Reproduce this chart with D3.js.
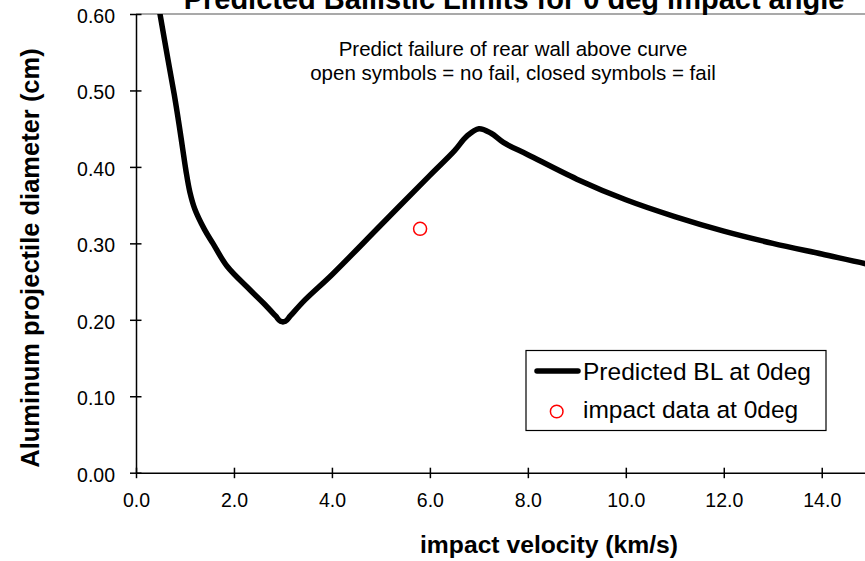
<!DOCTYPE html>
<html><head><meta charset="utf-8">
<script src="https://cdn.jsdelivr.net/npm/d3@7/dist/d3.min.js"></script>
<style>html,body{margin:0;padding:0;background:#fff;overflow:hidden}svg{display:block;font-family:Arial,"Liberation Sans",sans-serif}</style>
</head><body><svg id="c" width="865" height="561"></svg>
<script>
// ---- data ----
const velocity = [0.40, 0.49, 0.64, 0.78, 0.88, 0.95, 1.02, 1.1, 1.2, 1.4, 1.57, 1.86, 2.33, 2.6, 2.85, 2.95, 3.05, 3.15, 3.45, 4.0, 5.0, 6.0, 6.5, 6.75, 7.0, 7.25, 7.5, 8.0, 9.0, 10.0, 11.0, 12.0, 13.0, 14.0, 15.0, 16.0];
const diameter = [0.635, 0.60, 0.545, 0.495, 0.455, 0.425, 0.395, 0.367, 0.345, 0.318, 0.300, 0.270, 0.239, 0.222, 0.205, 0.198, 0.198, 0.205, 0.226, 0.259, 0.324, 0.389, 0.421, 0.440, 0.450, 0.444, 0.432, 0.416, 0.384, 0.357, 0.335, 0.316, 0.300, 0.286, 0.272, 0.260];
const impactVelocity = [5.8];
const impactDiameter = [0.319];
const xTicks = [0, 2, 4, 6, 8, 10, 12, 14];
const yTicks = [0, 0.1, 0.2, 0.3, 0.4, 0.5, 0.6];
const titleText = "Predicted Ballistic Limits for 0 deg impact angle";
const noteLines = ["Predict failure of rear wall above curve", "open symbols = no fail, closed symbols = fail"];
const xTitle = "impact velocity (km/s)";
const yTitle = "Aluminum projectile diameter (cm)";
const legendLabels = ["Predicted BL at 0deg", "impact data at 0deg"];

// ---- layout ----
const svg = d3.select("#c");
const L = 136, R = 919.7, T = 14, B = 472.7;
const x = d3.scaleLinear().domain([0, 16]).range([L, R]);
const y = d3.scaleLinear().domain([0, 0.6]).range([B, T]);

svg.append("defs").append("clipPath").attr("id", "plotclip")
  .append("rect").attr("x", L).attr("y", T).attr("width", R - L).attr("height", B - T);

// plot border top (gray)
svg.append("line").attr("x1", L).attr("x2", R).attr("y1", T).attr("y2", T)
  .attr("stroke", "#8c8c8c").attr("stroke-width", 1.6);

// curve
const pts = velocity.map((v, i) => [v, diameter[i]]);
svg.append("path").datum(pts)
  .attr("clip-path", "url(#plotclip)")
  .attr("fill", "none").attr("stroke", "#000").attr("stroke-width", 5.5)
  .attr("stroke-linejoin", "round").attr("stroke-linecap", "round")
  .attr("d", d3.line().x(d => x(d[0])).y(d => y(d[1])).curve(d3.curveCatmullRom.alpha(0.5)));

// impact point
svg.selectAll("circle.pt").data(impactVelocity.map((v, i) => [v, impactDiameter[i]]))
  .join("circle").attr("class", "pt")
  .attr("cx", d => x(d[0])).attr("cy", d => y(d[1])).attr("r", 6.5)
  .attr("fill", "none").attr("stroke", "#ff0000").attr("stroke-width", 1.5);

// axes
const xAxis = d3.axisBottom(x).tickValues(xTicks).tickFormat(d3.format(".1f")).tickSizeInner(5).tickSizeOuter(0).tickPadding(18);
const gx = svg.append("g").attr("transform", `translate(0,${B})`).call(xAxis);
gx.select(".domain").attr("stroke", "#000").attr("stroke-width", 1.5);
gx.selectAll(".tick line").attr("stroke", "#000").attr("stroke-width", 1.5).attr("y1", -5).attr("y2", 5.5);
gx.selectAll(".tick text").attr("font-size", "19.5px").attr("fill", "#000").attr("font-family", "Arial, 'Liberation Sans', sans-serif").attr("dy", 0).attr("y", 34.5);

const yAxis = d3.axisLeft(y).tickValues(yTicks).tickFormat(d3.format(".2f")).tickSizeInner(6).tickSizeOuter(0).tickPadding(20);
const gy = svg.append("g").attr("transform", `translate(${L},0)`).call(yAxis);
gy.select(".domain").attr("stroke", "#000").attr("stroke-width", 1.5);
gy.selectAll(".tick line").attr("stroke", "#000").attr("stroke-width", 1.5).attr("x1", 5.5).attr("x2", -6);
gy.selectAll(".tick text").attr("font-size", "19.5px").attr("fill", "#000").attr("font-family", "Arial, 'Liberation Sans', sans-serif").attr("dy", 0).attr("y", 8.5).attr("x", -21);

// title (clipped at top, as in the reference)
svg.append("text").attr("x", 514).attr("y", 9).attr("text-anchor", "middle")
  .attr("font-size", "29px").attr("font-weight", "bold").text(titleText);

// annotation
noteLines.forEach((t, i) => {
  svg.append("text").attr("x", 513).attr("y", 56 + i * 24).attr("text-anchor", "middle")
    .attr("font-size", "20.5px").text(t);
});

// axis titles
svg.append("text").attr("x", 549).attr("y", 553).attr("text-anchor", "middle")
  .attr("font-size", "24.7px").attr("font-weight", "bold").text(xTitle);
svg.append("text").attr("transform", "translate(39,258) rotate(-90)").attr("text-anchor", "middle")
  .attr("font-size", "25.5px").attr("font-weight", "bold").text(yTitle);

// legend
const lg = svg.append("g");
lg.append("rect").attr("x", 526).attr("y", 350.5).attr("width", 300).attr("height", 80)
  .attr("fill", "#fff").attr("stroke", "#000").attr("stroke-width", 1.2);
lg.append("line").attr("x1", 537).attr("x2", 578).attr("y1", 371).attr("y2", 371)
  .attr("stroke", "#000").attr("stroke-width", 5.5).attr("stroke-linecap", "round");
lg.append("circle").attr("cx", 556.7).attr("cy", 411.5).attr("r", 6.3)
  .attr("fill", "none").attr("stroke", "#ff0000").attr("stroke-width", 1.5);
legendLabels.forEach((t, i) => {
  lg.append("text").attr("x", 583).attr("y", 380 + i * 38).attr("font-size", "24.5px").text(t);
});
</script></body></html>
